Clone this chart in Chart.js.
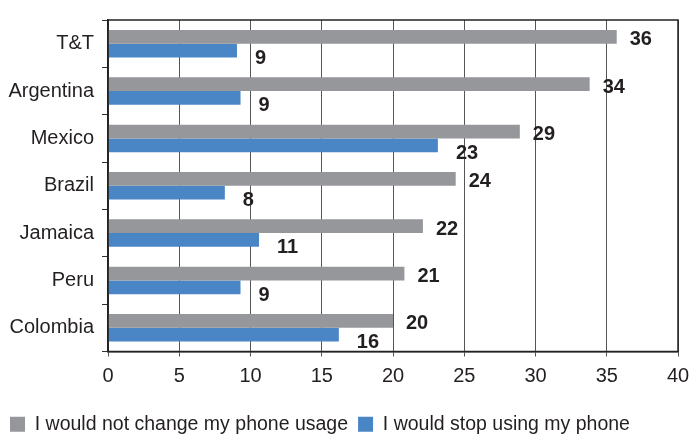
<!DOCTYPE html>
<html>
<head>
<meta charset="utf-8">
<script src="https://cdn.jsdelivr.net/npm/chart.js@4.4.1/dist/chart.umd.min.js"></script>
<style>
  html, body { margin: 0; padding: 0; background: #fff; }
  #wrap { width: 692px; height: 436px; }
</style>
</head>
<body>
<div id="wrap"><canvas id="phoneChart" width="692" height="436"></canvas></div>
<script>
var countries = ["T&T", "Argentina", "Mexico", "Brazil", "Jamaica", "Peru", "Colombia"];
var noChange = [35.7, 33.8, 28.9, 24.4, 22.1, 20.8, 20.0];
var stopUsing = [9.05, 9.3, 23.15, 8.2, 10.6, 9.3, 16.2];
var seriesNames = ["I would not change my phone usage", "I would stop using my phone"];
var xTicks = [0, 5, 10, 15, 20, 25, 30, 35, 40];

var textColor = "#231f20";
var fontFamily = "'Liberation Sans', Arial, sans-serif";
Chart.defaults.font.family = fontFamily;
Chart.defaults.color = textColor;

// value labels next to each bar end
var barValues = {
    id: "barValues",
    afterDatasetsDraw: function (chart) {
        var ctx = chart.ctx;
        ctx.save();
        ctx.font = "bold 20px " + fontFamily;
        ctx.fillStyle = textColor;
        ctx.textAlign = "left";
        ctx.textBaseline = "middle";
        chart.data.datasets.forEach(function (ds, i) {
            var meta = chart.getDatasetMeta(i);
            var dx = i == 0 ? 13 : 18;
            var dy = i == 0 ? 3 : 8;
            meta.data.forEach(function (bar, j) {
                ctx.fillText(Math.round(ds.data[j]), bar.x + dx, bar.y + dy);
            });
        });
        ctx.restore();
    }
};

// box round the plot area
var plotFrame = {
    id: "plotFrame",
    afterDraw: function (chart) {
        var a = chart.chartArea;
        var ctx = chart.ctx;
        ctx.save();
        ctx.strokeStyle = "#222";
        ctx.lineWidth = 1.5;
        ctx.strokeRect(a.left, a.top, a.right - a.left, a.bottom - a.top);
        ctx.restore();
    }
};

new Chart(document.getElementById("phoneChart").getContext("2d"), {
    type: "bar",
    data: {
        labels: countries,
        datasets: [
            {
                label: seriesNames[0],
                data: noChange,
                backgroundColor: "#96979b",
                borderWidth: 0,
                categoryPercentage: 0.58,
                barPercentage: 1.0
            },
            {
                label: seriesNames[1],
                data: stopUsing,
                backgroundColor: "#4a86c6",
                borderWidth: 0,
                categoryPercentage: 0.58,
                barPercentage: 1.0
            }
        ]
    },
    options: {
        indexAxis: "y",
        responsive: false,
        animation: false,
        layout: { padding: { top: 17, right: 14, left: 0, bottom: -8 } },
        plugins: {
            tooltip: { enabled: false },
            legend: {
                position: "bottom",
                align: "start",
                labels: {
                    boxWidth: 15,
                    boxHeight: 15,
                    padding: 10,
                    color: textColor,
                    font: { size: 19.5 }
                }
            }
        },
        scales: {
            x: {
                min: xTicks[0],
                max: xTicks[xTicks.length - 1],
                afterBuildTicks: function (scale) {
                    scale.ticks = xTicks.map(function (v) { return { value: v }; });
                },
                afterFit: function (scale) {
                    scale.height = 53;
                    scale.paddingRight = 0;
                    scale.paddingLeft = 0;
                },
                ticks: { color: textColor, font: { size: 20 }, padding: 8, maxRotation: 0 },
                grid: { color: "#555", lineWidth: 1, tickLength: 5, drawTicks: true },
                border: { color: "#222", width: 1.5 }
            },
            y: {
                afterFit: function (scale) { scale.width = 108; },
                ticks: { color: textColor, font: { size: 20 }, padding: 8 },
                grid: { drawOnChartArea: false, drawTicks: true, tickLength: 6, color: "#333", offset: true },
                border: { color: "#222", width: 1.5 }
            }
        }
    },
    plugins: [barValues, plotFrame]
});
</script>
</body>
</html>
